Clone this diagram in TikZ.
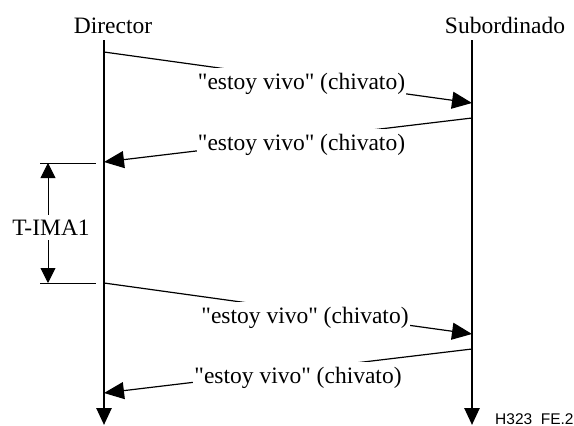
\documentclass[tikz,border=0pt]{standalone}
\usepackage{fontspec}
\newfontfamily\serifplain{Liberation Serif}
\newfontfamily\labsans{Liberation Sans}
\usetikzlibrary{arrows.meta}
\begin{document}
\begin{tikzpicture}[x=1pt,y=-1pt,
  lifeline/.style={line width=2.6pt,-{Triangle[length=17pt,width=15pt]}},
  msgline/.style={line width=1.2pt,-{Triangle[length=20pt,width=17pt]}},
  msglabel/.style={fill=white,inner xsep=1pt,inner ysep=4.5pt,font=\serifplain\fontsize{23.5}{28}\selectfont},
  head/.style={font=\serifplain\fontsize{23.5}{28}\selectfont,anchor=base,inner sep=0pt},
  tick/.style={line width=0.9pt},
  dimarrow/.style={line width=0.9pt,{Triangle[length=15pt,width=15pt]}-{Triangle[length=15pt,width=15pt]}}]
\useasboundingbox (0,0) rectangle (574,426);
% headings
\node[head] (dir) at (113,33) {Director};
\node[head] (sub) at (505,33) {Subordinado};
% lifelines
\coordinate (dtop) at (104,40);
\coordinate (dbot) at (104,425);
\coordinate (stop) at (472,40);
\coordinate (sbot) at (472,425);
\draw[lifeline] (dtop) -- (dbot);
\draw[lifeline] (stop) -- (sbot);
% message endpoints
\coordinate (m1a) at (104,52);  \coordinate (m1b) at (472,103);
\coordinate (m2a) at (472,118); \coordinate (m2b) at (104,162);
\coordinate (m3a) at (104,283); \coordinate (m3b) at (472,334);
\coordinate (m4a) at (472,349); \coordinate (m4b) at (104,393);
\draw[msgline] (m1a) -- (m1b);
\draw[msgline] (m2a) -- (m2b);
\draw[msgline] (m3a) -- (m3b);
\draw[msgline] (m4a) -- (m4b);
\node[msglabel,anchor=base] (l1) at (301.5,89) {"estoy vivo" (chivato)};
\node[msglabel,anchor=base] (l2) at (301.5,150) {"estoy vivo" (chivato)};
\node[msglabel,anchor=base] (l3) at (305,323) {"estoy vivo" (chivato)};
\node[msglabel,anchor=base] (l4) at (298,383) {"estoy vivo" (chivato)};
% T-IMA1 dimension
\coordinate (t1a) at (40,163); \coordinate (t1b) at (96,163);
\coordinate (t2a) at (40,283); \coordinate (t2b) at (96,283);
\coordinate (va) at (48,163); \coordinate (vb) at (48,283);
\draw[tick] (t1a) -- (t1b);
\draw[tick] (t2a) -- (t2b);
\draw[dimarrow] (va) -- (vb);
\node[msglabel,anchor=base,inner xsep=0pt] (tima) at (51,235) {T-IMA1};
% figure id
\node[anchor=base west,inner sep=0pt,font=\labsans\fontsize{15.5}{18}\selectfont] (fig) at (495,424) {H323\ \ FE.2};
\end{tikzpicture}
\end{document}
